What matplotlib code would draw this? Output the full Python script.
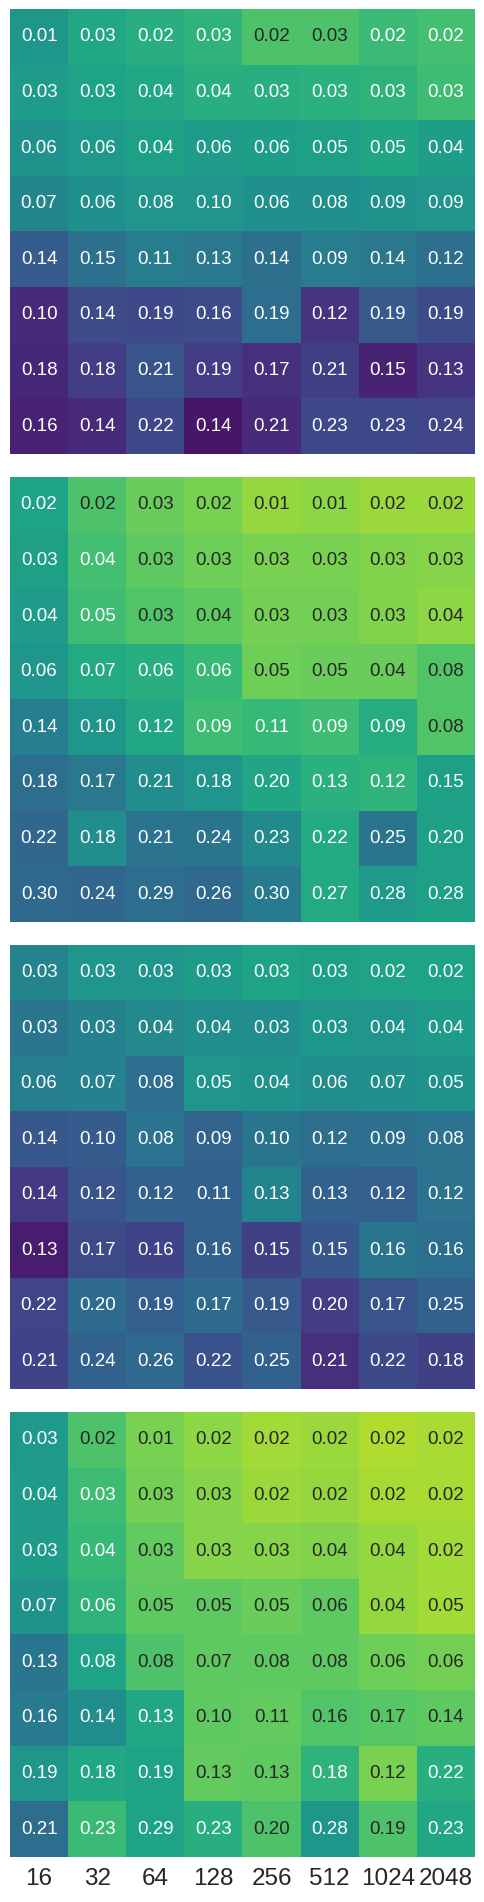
import numpy as np
import matplotlib
matplotlib.use("Agg")
import matplotlib.pyplot as plt
from matplotlib.colors import to_rgb

plt.rcParams['font.family'] = ['Liberation Sans', 'DejaVu Sans']

# x tick labels (shared, shown under the last panel)
sizes = ["16", "32", "64", "128", "256", "512", "1024", "2048"]

# annotated values, one 8x8 grid per panel (rows top -> bottom)
annot_1 = [
    [0.01, 0.03, 0.02, 0.03, 0.02, 0.03, 0.02, 0.02],
    [0.03, 0.03, 0.04, 0.04, 0.03, 0.03, 0.03, 0.03],
    [0.06, 0.06, 0.04, 0.06, 0.06, 0.05, 0.05, 0.04],
    [0.07, 0.06, 0.08, 0.10, 0.06, 0.08, 0.09, 0.09],
    [0.14, 0.15, 0.11, 0.13, 0.14, 0.09, 0.14, 0.12],
    [0.10, 0.14, 0.19, 0.16, 0.19, 0.12, 0.19, 0.19],
    [0.18, 0.18, 0.21, 0.19, 0.17, 0.21, 0.15, 0.13],
    [0.16, 0.14, 0.22, 0.14, 0.21, 0.23, 0.23, 0.24],
]
annot_2 = [
    [0.02, 0.02, 0.03, 0.02, 0.01, 0.01, 0.02, 0.02],
    [0.03, 0.04, 0.03, 0.03, 0.03, 0.03, 0.03, 0.03],
    [0.04, 0.05, 0.03, 0.04, 0.03, 0.03, 0.03, 0.04],
    [0.06, 0.07, 0.06, 0.06, 0.05, 0.05, 0.04, 0.08],
    [0.14, 0.10, 0.12, 0.09, 0.11, 0.09, 0.09, 0.08],
    [0.18, 0.17, 0.21, 0.18, 0.20, 0.13, 0.12, 0.15],
    [0.22, 0.18, 0.21, 0.24, 0.23, 0.22, 0.25, 0.20],
    [0.30, 0.24, 0.29, 0.26, 0.30, 0.27, 0.28, 0.28],
]
annot_3 = [
    [0.03, 0.03, 0.03, 0.03, 0.03, 0.03, 0.02, 0.02],
    [0.03, 0.03, 0.04, 0.04, 0.03, 0.03, 0.04, 0.04],
    [0.06, 0.07, 0.08, 0.05, 0.04, 0.06, 0.07, 0.05],
    [0.14, 0.10, 0.08, 0.09, 0.10, 0.12, 0.09, 0.08],
    [0.14, 0.12, 0.12, 0.11, 0.13, 0.13, 0.12, 0.12],
    [0.13, 0.17, 0.16, 0.16, 0.15, 0.15, 0.16, 0.16],
    [0.22, 0.20, 0.19, 0.17, 0.19, 0.20, 0.17, 0.25],
    [0.21, 0.24, 0.26, 0.22, 0.25, 0.21, 0.22, 0.18],
]
annot_4 = [
    [0.03, 0.02, 0.01, 0.02, 0.02, 0.02, 0.02, 0.02],
    [0.04, 0.03, 0.03, 0.03, 0.02, 0.02, 0.02, 0.02],
    [0.03, 0.04, 0.03, 0.03, 0.03, 0.04, 0.04, 0.02],
    [0.07, 0.06, 0.05, 0.05, 0.05, 0.06, 0.04, 0.05],
    [0.13, 0.08, 0.08, 0.07, 0.08, 0.08, 0.06, 0.06],
    [0.16, 0.14, 0.13, 0.10, 0.11, 0.16, 0.17, 0.14],
    [0.19, 0.18, 0.19, 0.13, 0.13, 0.18, 0.12, 0.22],
    [0.21, 0.23, 0.29, 0.23, 0.20, 0.28, 0.19, 0.23],
]

# colour values (viridis 0..1)
color_1 = [
    [0.53, 0.60, 0.63, 0.65, 0.72, 0.72, 0.68, 0.70],
    [0.55, 0.58, 0.60, 0.63, 0.63, 0.64, 0.65, 0.69],
    [0.51, 0.54, 0.57, 0.55, 0.56, 0.57, 0.59, 0.56],
    [0.46, 0.50, 0.52, 0.52, 0.50, 0.50, 0.51, 0.52],
    [0.29, 0.37, 0.42, 0.40, 0.37, 0.42, 0.40, 0.37],
    [0.12, 0.23, 0.22, 0.23, 0.36, 0.15, 0.28, 0.23],
    [0.11, 0.18, 0.26, 0.18, 0.14, 0.19, 0.10, 0.15],
    [0.10, 0.12, 0.22, 0.06, 0.12, 0.22, 0.22, 0.21],
]
color_2 = [
    [0.58, 0.72, 0.77, 0.80, 0.84, 0.83, 0.85, 0.85],
    [0.57, 0.70, 0.75, 0.78, 0.80, 0.80, 0.81, 0.82],
    [0.55, 0.69, 0.73, 0.75, 0.79, 0.79, 0.81, 0.83],
    [0.52, 0.61, 0.63, 0.67, 0.78, 0.77, 0.77, 0.73],
    [0.43, 0.53, 0.60, 0.69, 0.67, 0.69, 0.62, 0.73],
    [0.36, 0.40, 0.49, 0.52, 0.59, 0.64, 0.65, 0.57],
    [0.33, 0.49, 0.38, 0.39, 0.48, 0.61, 0.39, 0.57],
    [0.34, 0.33, 0.36, 0.34, 0.41, 0.61, 0.54, 0.57],
]
color_3 = [
    [0.45, 0.52, 0.52, 0.55, 0.58, 0.57, 0.58, 0.58],
    [0.39, 0.44, 0.47, 0.49, 0.49, 0.53, 0.52, 0.55],
    [0.43, 0.44, 0.36, 0.52, 0.51, 0.49, 0.50, 0.51],
    [0.27, 0.29, 0.38, 0.32, 0.39, 0.36, 0.37, 0.38],
    [0.17, 0.26, 0.31, 0.31, 0.45, 0.31, 0.30, 0.38],
    [0.08, 0.23, 0.20, 0.31, 0.19, 0.27, 0.39, 0.36],
    [0.21, 0.35, 0.30, 0.35, 0.28, 0.18, 0.26, 0.31],
    [0.20, 0.31, 0.34, 0.25, 0.31, 0.14, 0.22, 0.19],
]
color_4 = [
    [0.54, 0.72, 0.80, 0.83, 0.86, 0.85, 0.88, 0.87],
    [0.55, 0.69, 0.79, 0.82, 0.85, 0.84, 0.87, 0.87],
    [0.55, 0.67, 0.76, 0.82, 0.82, 0.81, 0.84, 0.86],
    [0.51, 0.65, 0.75, 0.75, 0.77, 0.75, 0.84, 0.86],
    [0.39, 0.58, 0.72, 0.75, 0.75, 0.75, 0.78, 0.79],
    [0.41, 0.49, 0.60, 0.75, 0.76, 0.73, 0.74, 0.75],
    [0.52, 0.60, 0.58, 0.76, 0.75, 0.65, 0.80, 0.63],
    [0.36, 0.68, 0.58, 0.63, 0.72, 0.53, 0.72, 0.60],
]

panels = [(color_1, annot_1), (color_2, annot_2), (color_3, annot_3), (color_4, annot_4)]
# panel pixel extents (top, bottom) in the 1902 px tall figure
extents = [(9, 454), (477, 922), (945, 1389), (1412, 1857)]

W, H = 484, 1902
fig = plt.figure(figsize=(W / 100, H / 100), dpi=100)
cmap = plt.get_cmap("viridis")


def luminance(rgb):
    rgb = np.array(rgb)
    rgb = np.where(rgb <= 0.03928, rgb / 12.92, ((rgb + 0.055) / 1.055) ** 2.4)
    return 0.2126 * rgb[0] + 0.7152 * rgb[1] + 0.0722 * rgb[2]


for i, ((cvals, avals), (top, bot)) in enumerate(zip(panels, extents)):
    ax = fig.add_axes([10 / W, 1 - bot / H, 465 / W, (bot - top) / H])
    c = np.array(cvals)
    a = np.array(avals)
    ax.imshow(c, cmap=cmap, vmin=0, vmax=1, aspect="auto", interpolation="nearest")
    for r in range(8):
        for k in range(8):
            fc = cmap(c[r, k])
            tc = "#262626" if luminance(to_rgb(fc)) > 0.408 else "white"
            ax.text(k, r, f"{a[r, k]:.2f}", ha="center", va="center",
                    color=tc, fontsize=13.5)
    for s in ax.spines.values():
        s.set_visible(False)
    ax.set_yticks([])
    if i == 3:
        ax.set_xticks(range(8))
        ax.set_xticklabels(sizes, fontsize=17.5, color="#262626")
        ax.tick_params(axis="x", length=0, pad=8)
    else:
        ax.set_xticks([])

fig.savefig("out.png", dpi=100)
